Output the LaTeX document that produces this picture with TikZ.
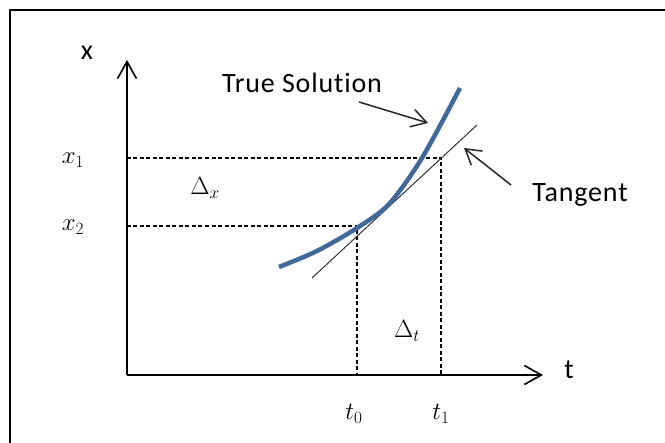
\documentclass[tikz,border=0pt]{standalone}
\usepackage{fontspec}
\setmainfont{Carlito}[Ligatures=NoCommon, LetterSpace=3]
\usetikzlibrary{arrows.meta}
\definecolor{solblue}{RGB}{64,104,153}
\begin{document}
\begin{tikzpicture}[x=1pt, y=1pt,
  axis/.style={line width=1.6pt, -{Straight Barb[length=17pt,width=19pt]}},
  guide/.style={line width=1.3pt, dash pattern=on 4pt off 2.5pt},
  callout/.style={line width=1.5pt, black!85, -{Straight Barb[length=15pt,width=18pt]}},
  lbl/.style={font=\fontsize{28}{33}\selectfont, inner sep=0pt},
  mlbl/.style={font=\fontsize{25}{29}\selectfont, inner sep=0pt}]
\useasboundingbox (-127,-68) rectangle (538,375);
% Frame
\draw[line width=1.8pt] (-117,-68) |- (538,365);

% Axes
\coordinate (O) at (0,0);
\coordinate (tEnd) at (416,0);
\coordinate (xEnd) at (0,315);
\draw[axis] (O) -- (tEnd);
\draw[axis] (O) -- (xEnd);
\node[lbl] (tLabel) at (442,5) {t};
\node[lbl] (xLabel) at (-40,322) {x};

% Guides
\coordinate (P0) at (230,149);
\coordinate (P1) at (314,217);
\draw[guide] (O |- P1) -- (P1) -- (P1 |- O);
\draw[guide] (O |- P0) -- (P0) -- (P0 |- O);
\node[mlbl] (x1) at (-54,215) {$x_1$};
\node[mlbl] (x2) at (-54,148) {$x_2$};
\node[mlbl] (t0) at (227,-39) {$t_0$};
\node[mlbl] (t1) at (314,-39) {$t_1$};
\node[mlbl] (dx) at (78,187) {$\Delta_x$};
\node[mlbl] (dt) at (280,44) {$\Delta_t$};

% Curve and tangent
\coordinate (tanA) at (185,97);
\coordinate (tanB) at (350,250);
\draw[line width=1pt, black!80] (tanA) -- (tanB);
\draw[solblue, line width=4.5pt] plot[smooth] coordinates
    {(152,108) (190,124) (230,147) (262,171) (295,217) (333,287)};

% Callouts
\node[lbl, anchor=base] (sol) at (175,282) {True Solution};
\node[lbl, anchor=base] (tan) at (453,173) {Tangent};
\coordinate (solFrom) at (232,273);
\coordinate (solTo) at (301,252);
\coordinate (tanFrom) at (384,190);
\coordinate (tanTo) at (337,227);
\draw[callout] (solFrom) -- (solTo);
\draw[callout] (tanFrom) -- (tanTo);
\end{tikzpicture}
\end{document}
